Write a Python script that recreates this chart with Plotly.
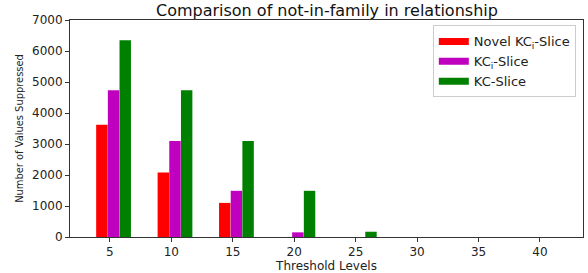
import plotly.graph_objects as go

thresholds = [5, 10, 15, 20, 25, 30, 35, 40]
novel_kci = [3620, 2080, 1100, 0, 0, 0, 0, 0]
kci = [4730, 3100, 1490, 150, 0, 0, 0, 0]
kc = [6350, 4730, 3100, 1490, 170, 0, 0, 0]
series_names = ["Novel KC<sub>i</sub>-Slice", "KC<sub>i</sub>-Slice", "KC-Slice"]
colors = ["#ff0000", "#bf00bf", "#008000"]
offsets = [-1.12, -0.17, 0.78]
bar_w = 0.93

fig = go.Figure()
for name, vals, col, off in zip(series_names, [novel_kci, kci, kc], colors, offsets):
    fig.add_trace(go.Bar(x=thresholds, y=vals, name=name, marker=dict(color=col, line=dict(width=0)),
                         width=bar_w, offset=off, showlegend=False))
# legend entries drawn as wide patches (line symbols)
for name, col in zip(series_names, colors):
    fig.add_trace(go.Scatter(x=[None], y=[None], mode="lines", name=name,
                             line=dict(color=col, width=7)))

axis_common = dict(showline=True, linecolor="#333333", linewidth=1, mirror=True, ticks="outside",
                   ticklen=4, tickcolor="#333333", showgrid=False, zeroline=False,
                   tickfont=dict(family="DejaVu Sans", size=12, color="#222222"))
fig.update_layout(
    width=588, height=273,
    margin=dict(l=70, r=5, t=20, b=36),
    paper_bgcolor="white", plot_bgcolor="white",
    barmode="overlay",
    title=dict(text="Comparison of not-in-family in relationship", x=0.556, xanchor="center",
               y=0.963, yanchor="middle", font=dict(family="DejaVu Sans", size=16, color="#111111")),
    xaxis=dict(range=[1.75, 43.5], tickvals=thresholds, ticktext=[str(t) for t in thresholds],
               title=dict(text="Threshold Levels", font=dict(family="DejaVu Sans", size=12, color="#222222"), standoff=0),
               **axis_common),
    yaxis=dict(range=[0, 7000], tickvals=[0, 1000, 2000, 3000, 4000, 5000, 6000, 7000],
               title=dict(text="Number of Values Suppressed", font=dict(family="Liberation Sans Narrow, DejaVu Sans Condensed", size=11, color="#222222"), standoff=6),
               **axis_common),
    legend=dict(x=0.986, y=0.975, xanchor="right", yanchor="top", bgcolor="white",
                bordercolor="#cccccc", borderwidth=1,
                font=dict(family="DejaVu Sans", size=13, color="#222222"),
                tracegroupgap=0, itemwidth=30),
    showlegend=True,
)
fig.write_html("out.html", config={"displayModeBar": False},
               post_script="document.body.style.margin='0';")
